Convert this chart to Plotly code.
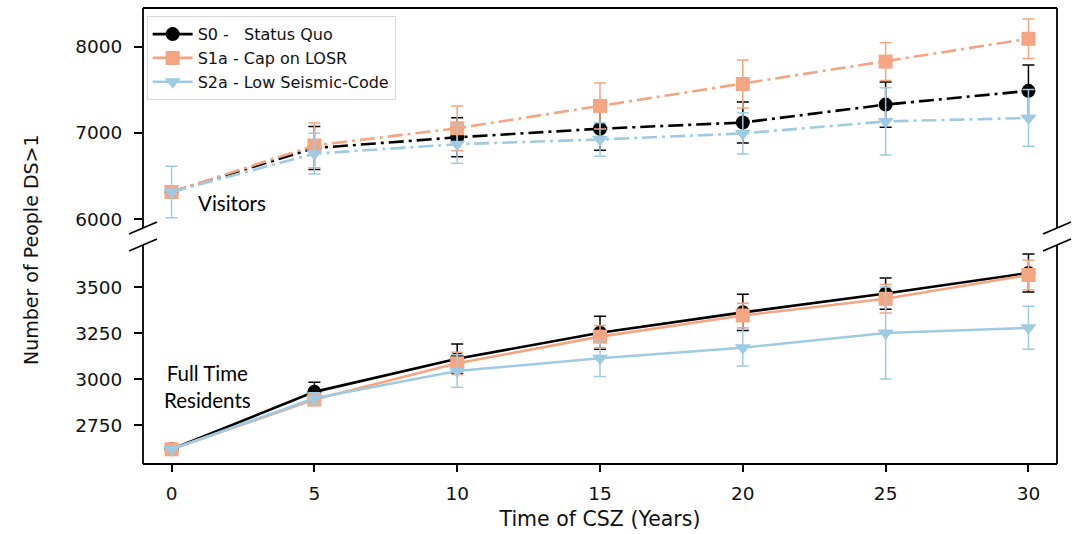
import plotly.graph_objects as go
from plotly.subplots import make_subplots

years = [0, 5, 10, 15, 20, 25, 30]
names = ["S0 -\u00a0\u00a0 Status Quo", "S1a - Cap on LOSR", "S2a - Low Seismic-Code"]
colors = ["#000000", "#F4A582", "#9FCBE2"]
symbols = ["circle", "square", "triangle-down"]

# Visitors (top panel)
vis_s0 = [6315, 6825, 6950, 7050, 7122, 7330, 7490]
vis_s0_err = [0, 250, 227, 250, 238, 262, 300]
vis_s1a = [6315, 6855, 7055, 7315, 7570, 7830, 8095]
vis_s1a_err = [0, 260, 260, 267, 280, 220, 230]
vis_s2a = [6315, 6760, 6870, 6925, 6995, 7135, 7175]
vis_s2a_err = [300, 237, 220, 195, 240, 390, 330]

# Full time residents (bottom panel)
res_s0 = [2620, 2932, 3112, 3253, 3364, 3466, 3578]
res_s0_err = [0, 52, 80, 90, 98, 85, 103]
res_s1a = [2620, 2890, 3087, 3232, 3347, 3438, 3567]
res_s1a_err = [0, 30, 60, 60, 66, 78, 80]
res_s2a = [2620, 2897, 3045, 3115, 3172, 3252, 3280]
res_s2a_err = [0, 30, 88, 100, 100, 250, 117]

vis = [(vis_s0, vis_s0_err), (vis_s1a, vis_s1a_err), (vis_s2a, vis_s2a_err)]
res = [(res_s0, res_s0_err), (res_s1a, res_s1a_err), (res_s2a, res_s2a_err)]

W, H = 1076, 534
ML, MR, MT, MB = 143, 19, 8, 70
PW, PH = W - ML - MR, H - MT - MB
top_dom = [(H - MB - 228) / PH, 1.0]
bot_dom = [0.0, (H - MB - 245) / PH]

fig = make_subplots(rows=2, cols=1, shared_xaxes=False, vertical_spacing=0.03)

for i in range(3):
    y, e = vis[i]
    fig.add_trace(go.Scatter(
        x=years, y=y, mode="lines+markers", name=names[i], showlegend=False,
        line=dict(color=colors[i], width=2.6, dash="15px,5px,3px,5px"),
        marker=dict(symbol=symbols[i], size=14, color=colors[i]),
        error_y=dict(type="data", array=e, color=colors[i], thickness=1.5, width=6),
    ), row=1, col=1)
for i in range(3):
    y, e = res[i]
    fig.add_trace(go.Scatter(
        x=years, y=y, mode="lines+markers", name=names[i], showlegend=True,
        line=dict(color=colors[i], width=2.6),
        marker=dict(symbol=symbols[i], size=14, color=colors[i]),
        error_y=dict(type="data", array=e, color=colors[i], thickness=1.5, width=6),
    ), row=2, col=1)

tickfont = dict(family="DejaVu Sans", size=18.5, color="#111111")
fig.update_xaxes(range=[-1, 31], showgrid=False, zeroline=False, showline=False)
fig.update_xaxes(row=1, col=1, showticklabels=False, ticks="", domain=[0, 1])
fig.update_xaxes(row=2, col=1, tickvals=years, ticks="outside", ticklen=7, tickwidth=1.5,
                 tickcolor="black", tickfont=tickfont, domain=[0, 1], ticklabelstandoff=6,
                 title=dict(text="Time of CSZ (Years)", font=dict(family="DejaVu Sans", size=20.5, color="#111111"), standoff=8))
fig.update_yaxes(showgrid=False, zeroline=False, showline=False, ticks="outside", ticklen=8,
                 tickwidth=1.5, tickcolor="black", tickfont=tickfont, ticklabelstandoff=8)
fig.update_yaxes(row=1, col=1, range=[5896, 8453], tickvals=[6000, 7000, 8000], domain=top_dom)
fig.update_yaxes(row=2, col=1, range=[2540, 3730], tickvals=[2750, 3000, 3250, 3500], domain=bot_dom)

# spines (broken axis frame) and break marks
shapes = []
def seg(x0, y0, x1, y1):
    shapes.append(dict(type="line", xref="paper", yref="paper", x0=x0, y0=y0, x1=x1, y1=y1,
                       line=dict(color="black", width=1.8)))
seg(0, top_dom[0], 0, 1); seg(1, top_dom[0], 1, 1); seg(0, 1, 1, 1)
seg(0, 0, 0, bot_dom[1]); seg(1, 0, 1, bot_dom[1]); seg(0, 0, 1, 0)
dx, dy = 14 / PW, 6 / PH
for yc in (top_dom[0], bot_dom[1]):
    for xc in (0, 1):
        seg(xc - dx, yc - dy, xc + dx, yc + dy)

annots = [
    dict(text="Visitors", x=2.1, y=6190, xref="x", yref="y", showarrow=False,
         font=dict(family="Lato", size=20.5, color="black")),
    dict(text="Full Time<br>Residents", x=1.25, y=2962, xref="x2", yref="y2", showarrow=False,
         font=dict(family="Lato", size=20.5, color="black"), align="center"),
    dict(text="Number of People DS>1", x=-112 / PW, y=(H - MB - 250) / PH, xref="paper", yref="paper",
         xanchor="center", yanchor="middle",
         textangle=-90, showarrow=False, font=dict(family="DejaVu Sans", size=19, color="#111111")),
]

fig.update_layout(
    width=W, height=H, margin=dict(l=ML, r=MR, t=MT, b=MB),
    plot_bgcolor="white", paper_bgcolor="white",
    shapes=shapes, annotations=annots,
    legend=dict(x=0.004, y=0.982, xanchor="left", yanchor="top",
                bgcolor="rgba(255,255,255,0.85)", bordercolor="#d8d8d8", borderwidth=1,
                font=dict(family="DejaVu Sans", size=16, color="#111111"),
                tracegroupgap=0, itemwidth=40),
    showlegend=True,
)

fig.write_html("out.html")
